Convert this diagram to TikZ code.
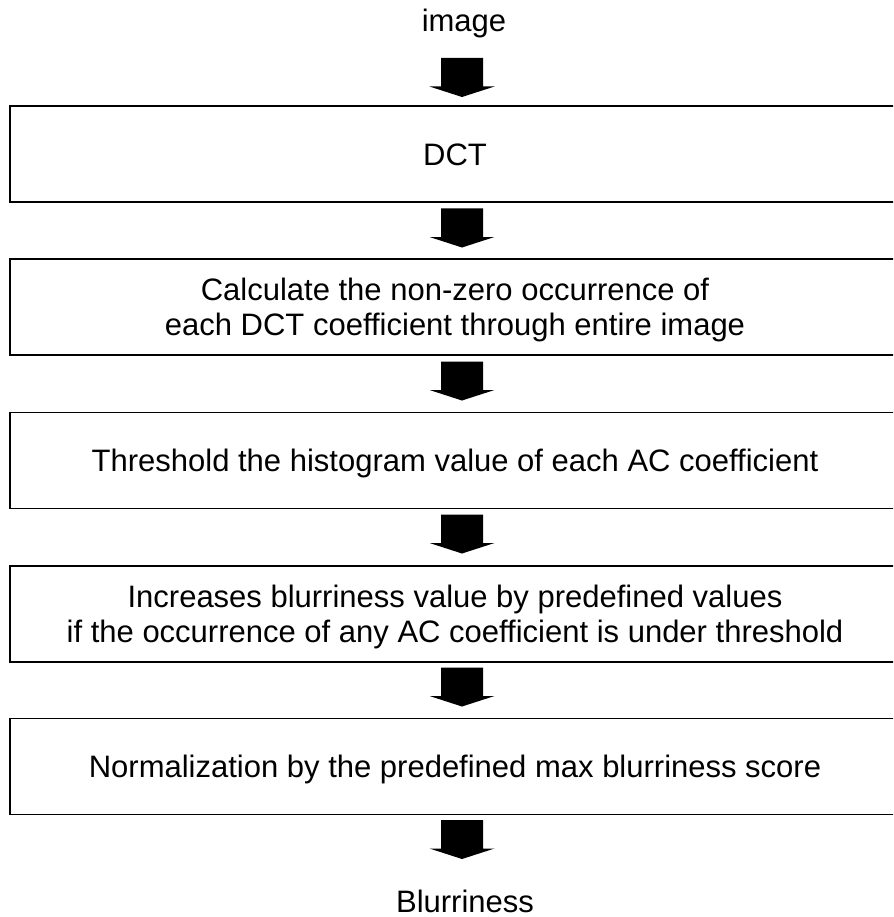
\documentclass[tikz,border=0pt]{standalone}
\usepackage{fontspec}
\setmainfont{Liberation Sans}
\begin{document}
\begin{tikzpicture}[x=1pt,y=-1pt,
  stepbox/.style={draw=black, line width=1.8pt, rectangle, inner sep=0pt,
    minimum width=890pt, minimum height=96pt, align=center,
    text height=22.2pt, text depth=0pt},
  twoline/.style={text height=56pt},
  flowtext/.style={inner sep=0pt, anchor=base},
  pics/blockarrow/.style={code={
    \fill[black] (-21,-19.5) -- (21,-19.5) -- (21,9) -- (32.5,9) -- (0,19.5)
      -- (-32.5,9) -- (-21,9) -- cycle;}}]
\useasboundingbox (0,0) rectangle (893,917);
\clip (0,0) rectangle (893,917);
\fontsize{31}{35}\selectfont

% input and output labels
\node[flowtext] (src) at (464,32) {image};
\node[flowtext] (out) at (465,912) {Blurriness};

% processing steps (boxes run off the right edge)
\node[stepbox] (b1) at (455,154) {DCT};
\node[stepbox, twoline] (b2) at (455,307) {Calculate the non-zero occurrence of\\each DCT coefficient through entire image};
\node[stepbox] (b3) at (455,460.5) {Threshold the histogram value of each AC coefficient};
\node[stepbox, twoline] (b4) at (455,614) {Increases blurriness value by predefined values\\if the occurrence of any AC coefficient is under threshold};
\node[stepbox] (b5) at (455,766.5) {Normalization by the predefined max blurriness score};

% block arrows between the steps
\pic (a1) at (462,77.5) {blockarrow};
\pic (a2) at (462,228) {blockarrow};
\pic (a3) at (462,381) {blockarrow};
\pic (a4) at (462,534) {blockarrow};
\pic (a5) at (462,687) {blockarrow};
\pic (a6) at (462,839.5) {blockarrow};
\end{tikzpicture}
\end{document}
